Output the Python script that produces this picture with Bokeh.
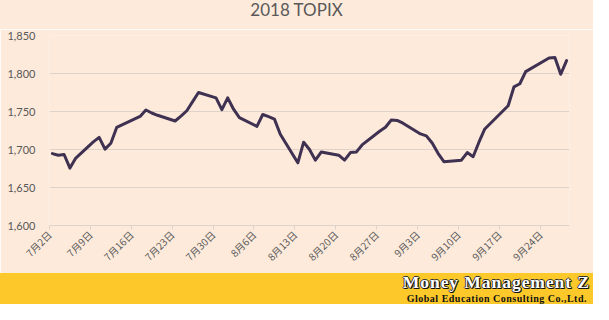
import math
from datetime import date
from bokeh.plotting import figure
from bokeh.models import FixedTicker, NumeralTickFormatter, Range1d, Div
from bokeh.layouts import column
from bokeh.embed import file_html
from bokeh.resources import INLINE

# ---- data (TOPIX closes, Jul-Sep 2018) ----
months = [7, 7, 7, 7, 7, 7, 7, 7, 7, 7, 7, 7, 7, 7, 7, 7, 7, 7, 7, 7, 7,
          8, 8, 8, 8, 8, 8, 8, 8, 8, 8, 8, 8, 8, 8, 8, 8, 8, 8, 8, 8, 8, 8, 8,
          9, 9, 9, 9, 9, 9, 9, 9, 9, 9, 9, 9, 9, 9, 9, 9, 9, 9]
days = [2, 3, 4, 5, 6, 9, 10, 11, 12, 13, 17, 18, 19, 20, 23, 24, 25, 26, 27, 30, 31,
        1, 2, 3, 6, 7, 8, 9, 10, 13, 14, 15, 16, 17, 20, 21, 22, 23, 24, 27, 28, 29, 30, 31,
        3, 4, 5, 6, 7, 10, 11, 12, 13, 14, 18, 19, 20, 21, 25, 26, 27, 28]
values = [1694.6, 1692.5, 1693.4, 1675.5, 1688.7, 1710.0, 1716.0, 1700.5, 1708.3, 1729.0,
          1743.5, 1752.0, 1748.0, 1745.0, 1737.5, 1744.0, 1751.0, 1763.0, 1775.0, 1768.0, 1752.5,
          1768.0, 1753.0, 1742.0, 1730.5, 1746.0, 1743.3, 1740.0, 1720.0, 1682.5, 1709.6,
          1700.0, 1686.0, 1696.7, 1692.5, 1686.0, 1696.0, 1696.6, 1706.0, 1724.0, 1729.3,
          1738.8, 1738.3, 1734.6,
          1720.5, 1718.0, 1708.5, 1695.0, 1684.0, 1686.0, 1696.0, 1690.5, 1709.6, 1727.0,
          1757.5, 1782.5, 1786.5, 1802.5, 1820.5, 1821.0, 1799.0, 1817.0]

tick_months = [7, 7, 7, 7, 7, 8, 8, 8, 8, 9, 9, 9, 9]
tick_days = [2, 9, 16, 23, 30, 6, 13, 20, 27, 3, 10, 17, 24]
tick_labels = ["7月2日", "7月9日", "7月16日", "7月23日", "7月30日", "8月6日", "8月13日",
               "8月20日", "8月27日", "9月3日", "9月10日", "9月17日", "9月24日"]
y_ticks = [1600, 1650, 1700, 1750, 1800, 1850]
title_text = "2018 TOPIX"
brand = "Money Management Z"
brand_sub = "Global Education Consulting Co.,Ltd."

start = date(2018, 7, 2)
x = [(date(2018, m, d) - start).days for m, d in zip(months, days)]
tick_pos = [(date(2018, m, d) - start).days - 0.5 for m, d in zip(tick_months, tick_days)]

PEACH = "#FDEADB"
GRID = "#DED3CB"
TXT = "#595959"
YELLOW = "#FDC92A"

W = 593
H_TITLE = 29
H1 = 244
H2 = 31

# ---- title strip ----
title_html = (
    f'<div style="position:relative;width:{W}px;height:{H_TITLE}px;background:{PEACH};">'
    f'<div style="position:absolute;left:0;top:1px;width:{W}px;text-align:center;'
    f'font-family:Lato,sans-serif;font-size:17px;line-height:17px;color:{TXT};">{title_text}</div>'
    f'</div>'
)
title_div = Div(text=title_html, width=W, height=H_TITLE, margin=0,
                styles={"background-color": PEACH})

# ---- chart ----
p = figure(width=W, height=H1, x_range=Range1d(-0.5, 88.5), y_range=Range1d(1600, 1850),
           output_backend="svg", toolbar_location=None,
           min_border_left=49, min_border_right=24, min_border_top=6, min_border_bottom=48,
           background_fill_color=PEACH, border_fill_color=PEACH, outline_line_color=None)

p.xgrid.visible = False
p.ygrid.grid_line_color = GRID
p.ygrid.grid_line_width = 1

p.yaxis.ticker = FixedTicker(ticks=y_ticks)
p.yaxis.formatter = NumeralTickFormatter(format="0,0")
p.yaxis.axis_line_color = None
p.yaxis.major_tick_line_color = None
p.yaxis.minor_tick_line_color = None
p.yaxis.major_label_standoff = 8
p.yaxis.major_label_text_font = "Lato"
p.yaxis.major_label_text_font_size = "11px"
p.yaxis.major_label_text_color = TXT

p.xaxis.ticker = FixedTicker(ticks=tick_pos)
p.xaxis.major_label_overrides = {t: lab for t, lab in zip(tick_pos, tick_labels)}
p.xaxis.major_label_orientation = math.pi / 4
p.xaxis.axis_line_color = GRID
p.xaxis.major_tick_line_color = GRID
p.xaxis.major_tick_out = 4
p.xaxis.major_tick_in = 0
p.xaxis.minor_tick_line_color = None
p.xaxis.major_label_standoff = 3
p.xaxis.major_label_text_font = "Noto Sans CJK JP"
p.xaxis.major_label_text_font_size = "10px"
p.xaxis.major_label_text_color = TXT

p.line(x=x, y=values, line_color="#3F3151", line_width=3, line_join="round", line_cap="round")

# ---- brand band ----
serif = "'Liberation Serif', 'DejaVu Serif', serif"
outline = "text-shadow:1px 1px 0 #111,-1px 0 0 #333,0 -1px 0 #333,1px 0 0 #222,0 1px 0 #222;"
band_html = (
    f'<div style="position:relative;width:{W}px;height:{H2}px;background:{YELLOW};overflow:hidden;">'
    f'<div style="position:absolute;right:3px;top:0px;font-family:{serif};font-weight:bold;'
    f'font-size:17.6px;line-height:19.5px;letter-spacing:0.9px;white-space:nowrap;'
    f'color:#ffffff;{outline}">{brand}</div>'
    f'<div style="position:absolute;right:6px;top:19.6px;font-family:{serif};font-weight:bold;'
    f'font-size:10px;line-height:11.1px;letter-spacing:0.5px;white-space:nowrap;'
    f'color:#111111;">{brand_sub}</div>'
    f'</div>'
)
band = Div(text=band_html, width=W, height=H2, margin=0, styles={"background-color": YELLOW})

layout = column(title_div, p, band, spacing=0)
open("out.html", "w").write(file_html(layout, INLINE))
